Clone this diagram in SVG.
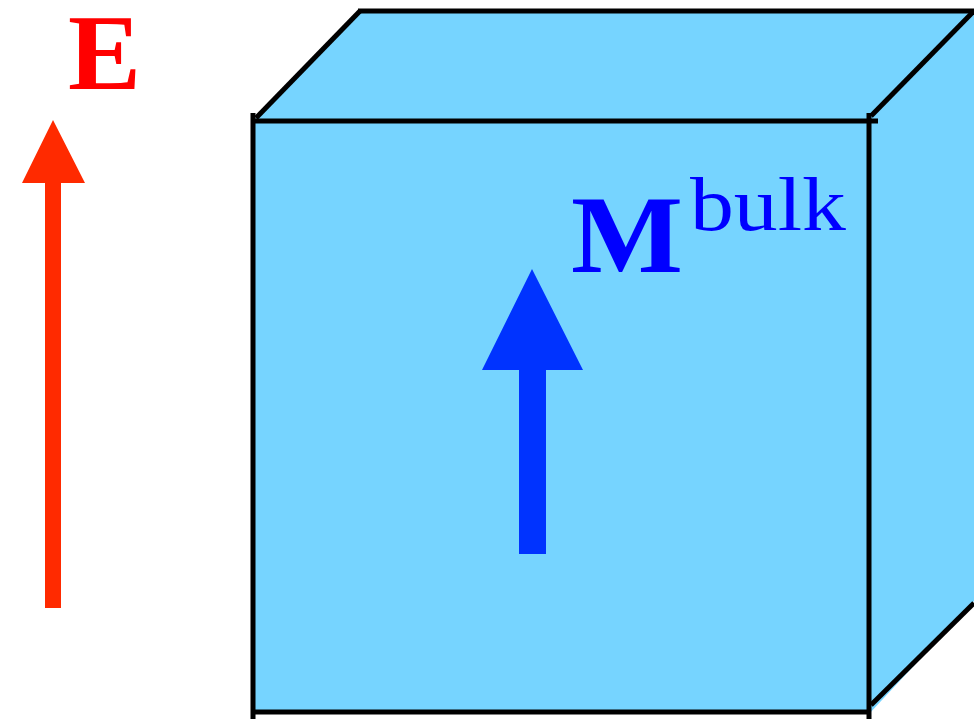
<svg xmlns="http://www.w3.org/2000/svg" width="974" height="719" viewBox="0 0 974 719">
<style>
.edge{stroke:#000;stroke-width:5;fill:none;stroke-linecap:butt}
.lbl{font-family:"Liberation Serif","DejaVu Serif",serif}
</style>
<rect width="974" height="719" fill="#fff"/>
<g id="cube">
<polygon points="253,121 362,10 974,10 974,601 869,714 253,714" fill="#76D4FF"/>
<g class="edge">
<line x1="253" y1="113" x2="253" y2="719"/>
<line x1="253" y1="121" x2="878" y2="121"/>
<line x1="253" y1="712" x2="869" y2="712"/>
<line x1="869" y1="113" x2="869" y2="719"/>
<line x1="256" y1="118" x2="360" y2="11"/>
<line x1="358" y1="11" x2="974" y2="11"/>
<line x1="871" y1="116" x2="973" y2="12"/>
<line x1="871" y1="705" x2="974" y2="603"/>
</g>
</g>
<g id="E-field">
<polygon points="45,608 61,608 61,183 85,183 53,120 22,183 45,183" fill="#FF2A00"/>
<text class="lbl" x="68" y="89" font-size="108" font-weight="bold" fill="#FF0000" textLength="73" lengthAdjust="spacingAndGlyphs">E</text>
</g>
<g id="M-bulk">
<polygon points="519,554 546,554 546,370 583,370 532,269 482,370 519,370" fill="#0033FF"/>
<text class="lbl" x="571" y="272" font-size="110" font-weight="bold" fill="#0000FF" textLength="112" lengthAdjust="spacingAndGlyphs">M</text>
<text class="lbl" x="690" y="230" font-size="76" fill="#0000FF" textLength="156" lengthAdjust="spacingAndGlyphs">bulk</text>
</g>
</svg>
